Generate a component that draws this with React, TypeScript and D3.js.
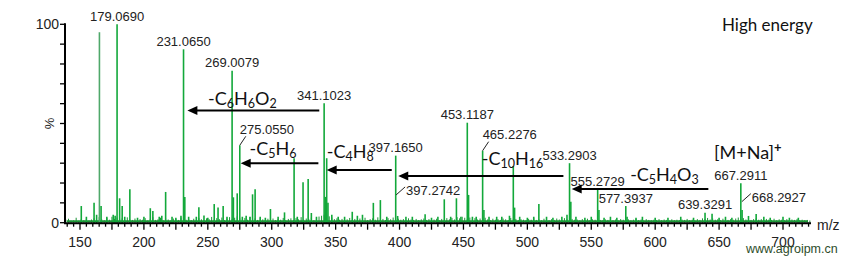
import React from "react";
import * as d3 from "d3";

// ---------- data ----------
const xTicksLabeled = [150, 200, 250, 300, 350, 400, 450, 500, 550, 600, 650, 700];
const yTicksLabeled = [0, 100];

// main peaks: m/z and relative intensity (%)
const peakMz = [
  151, 155, 161, 163, 165.2, 166.5, 171, 176, 177.5, 179, 181, 183, 185, 189, 195, 200, 205, 207, 212, 214,
  217, 222, 225, 229, 231, 232, 235, 241, 243, 247, 250, 255, 258, 262, 265, 269, 270, 273, 275, 277,
  280, 283, 285, 287, 291, 295, 299, 305, 310, 317.5, 320, 324.5, 328.5, 331, 335, 341, 342, 343, 344, 347,
  352, 357, 363, 367, 371, 379.5, 385, 390, 397, 398.5, 405, 410, 420, 425, 430, 435, 440, 444.5, 448, 453,
  454, 457, 460, 465, 466, 470, 476, 480, 486, 489, 490, 494, 500, 505, 509, 515, 520, 527, 531, 533,
  534, 538, 545, 550, 555, 556, 560, 565, 570, 577, 578, 585, 590, 600, 610, 620, 630, 639, 644.5, 650,
  655, 660, 667, 668, 673, 679, 685, 690, 700, 705, 712,
];
const peakPct = [
  8.4, 3, 10, 4, 96, 8.4, 3, 4, 3.5, 100, 12.3, 8.4, 3, 16.8, 2.5, 3, 7.3, 5.9, 3, 3.5,
  15.5, 3, 2.5, 3.5, 87.4, 13, 3, 3, 7.8, 3.6, 2.5, 9.4, 7.6, 8.4, 3, 76.6, 12.8, 14.8, 39, 3,
  3.5, 3, 14.3, 16.8, 3, 2.5, 6.9, 3, 5.2, 32.5, 3, 20.4, 22, 4.9, 3, 60.2, 13, 32.5, 10, 4,
  3, 3, 5.5, 3.5, 4, 10, 11.4, 3, 33.8, 3.4, 3, 3, 4.2, 2.5, 3, 11.8, 3, 12.3, 3, 50.4,
  14, 3, 3, 36.3, 6.4, 3, 3, 3, 3.5, 28.6, 7.6, 3, 2.5, 3, 9.4, 3, 2.5, 3, 4, 30,
  10.6, 3, 2.5, 3, 16.8, 6.4, 2.5, 3, 2.5, 8.4, 3, 2.5, 3, 2.5, 2.5, 3, 2.5, 5, 4.5, 2.5,
  3, 2.5, 19.9, 6.4, 3.4, 4.4, 3, 2.5, 3, 2.5, 2.5,
];
const mutedPeakMz = [165.2];

// baseline chemical noise, one value every 2 m/z starting at 139
const noiseStart = 139;
const noiseStep = 2;
const noisePct = [
  1.5, 2, 1, 1.2, 2.5, 1, 1.8, 1.3, 2, 1.1,
  1.6, 2.2, 1.4, 2.8, 1.7, 1.2, 2.4, 1.5, 3, 1.9,
  2.6, 1.8, 2.2, 1.3, 2.7, 1.6, 1.4, 2.1, 1.2, 1.8,
  1.5, 2.3, 1.1, 1.9, 2.8, 1.4, 1.7, 2.5, 1.3, 2.2,
  1.6, 1.2, 2.1, 1.8, 1.4, 2.6, 2.3, 1.5, 1.9, 1.3,
  2, 1.4, 2.4, 1.7, 1.2, 2.2, 1.8, 2.9, 1.5, 2.3,
  1.8, 2.6, 1.3, 2.1, 2.8, 1.9, 2.5, 3.2, 2.2, 1.6,
  2.4, 1.5, 2.9, 1.8, 2.2, 1.4, 2.6, 1.7, 1.3, 2,
  1.6, 2.1, 1.3, 1.8, 1.5, 2.4, 1.2, 1.9, 2.2, 1.4,
  2.3, 1.7, 2.8, 1.5, 2.1, 1.9, 2.6, 1.3, 2.2, 3.1,
  3.5, 4, 3.8, 3.2, 2.6, 1.8, 2.2, 1.5, 1.9, 1.3,
  1.7, 2.4, 1.4, 1.9, 1.2, 2.1, 1.6, 2.5, 1.3, 1.8,
  2.2, 1.5, 2.7, 1.6, 1.9, 1.3, 2.3, 1.7, 2.6, 1.4,
  2, 1.5, 1.8, 1.2, 2.2, 1.6, 1.4, 1.9, 1.3, 1.7,
  2.1, 1.4, 1.8, 1.2, 1.6, 2, 1.3, 1.9, 1.5, 2.3,
  1.7, 2.4, 1.6, 2.8, 2.2, 3, 2.5, 1.8, 2.6, 1.9,
  2.3, 1.6, 2.1, 1.4, 2.5, 1.7, 1.3, 2, 1.5, 1.8,
  1.4, 2.1, 1.7, 1.3, 2.4, 1.6, 1.9, 1.2, 1.8, 1.5,
  1.3, 1.9, 1.5, 2.2, 1.4, 1.7, 1.2, 2, 1.6, 1.3,
  1.8, 1.4, 2.1, 1.6, 1.3, 2.3, 1.7, 2.6, 1.9, 1.5,
  1.6, 1.2, 1.8, 1.4, 2, 1.3, 1.7, 1.5, 2.2, 1.4,
  1.2, 1.7, 1.4, 1.9, 1.3, 1.6, 1.2, 1.8, 1.5, 1.3,
  1.7, 1.2, 1.5, 1.9, 1.3, 1.6, 1.1, 1.8, 1.4, 1.2,
  1.5, 1.3, 1.8, 1.2, 1.6, 1.4, 1.1, 1.7, 1.3, 1.5,
  1.2, 1.6, 1.4, 1.9, 1.3, 1.5, 1.2, 1.8, 1.4, 2.2,
  1.9, 2.4, 1.6, 2.1, 1.5, 1.8, 1.3, 2, 1.6, 1.4,
  1.8, 1.5, 2.1, 2.6, 1.9, 2.3, 1.6, 2, 1.4, 1.8,
  2.2, 1.5, 1.8, 1.3, 1.9, 1.6, 1.4, 2, 1.2, 1.7,
  1.5, 1.3, 1.8, 1.2, 1.6, 1.4, 1.9, 1.2, 1.5, 1.3,
  1.4, 1.1,
];

// labels centred above their peak
const topLabelMz = [179, 231, 269, 341, 397, 453, 533, 555, 577, 639, 667];
const topLabelText = ["179.0690", "231.0650", "269.0079", "341.1023", "397.1650", "453.1187", "533.2903", "555.2729", "577.3937", "639.3291", "667.2911"];

// labels with a leader line
const leaderUpMz = [275, 465];
const leaderUpText = ["275.0550", "465.2276"];
const leaderSideMz = [397.3, 667.8];
const leaderSidePct = [14, 10.6];
const leaderSideText = ["397.2742", "668.2927"];

// neutral-loss arrows: from m/z -> to m/z at height %
const arrowFrom = [337.2, 336.5, 393.9, 528.2, 641.6];
const arrowTo = [234, 275.7, 343, 399, 534.7];
const arrowPct = [56.5, 30, 26.6, 23.5, 17];
// formula labels: parts [text, isSub]
const lossLabels: [string, boolean][][] = [
  [["-C", false], ["6", true], ["H", false], ["6", true], ["O", false], ["2", true]],
  [["-C", false], ["5", true], ["H", false], ["6", true]],
  [["-C", false], ["4", true], ["H", false], ["8", true]],
  [["-C", false], ["10", true], ["H", false], ["16", true]],
  [["-C", false], ["5", true], ["H", false], ["4", true], ["O", false], ["3", true]],
];
const lossLabelMz = [250.2, 282.6, 343.1, 464.3, 580.4];
const lossLabelPct = [59.3, 34.1, 32.6, 29.1, 20.9];

// ---------- layout ----------
const W = 848;
const H = 264;
const X0 = 65;
const X1 = 811;
const Y0 = 222.7;

const x = d3.scaleLinear().domain([150, 700]).range([80, 783]);
const y = d3.scaleLinear().domain([0, 100]).range([Y0, 24.3]);

const numFont = "'Liberation Sans', Arial, sans-serif";
const txtFont = "Lato, 'Open Sans', sans-serif";
const GREEN = "#12a83a";
const NOISE = "#1c9436";

export default function App() {
  const noise = noisePct.map((p, i) => ({ mz: noiseStart + i * noiseStep, p }));
  const peaks = peakMz.map((mz, i) => ({ mz, p: peakPct[i] }));
  const minorTicks = d3.range(140, 721, 5);
  const yTicks = d3.range(0, 101, 10);

  return (
    <svg width={W} height={H} style={{ position: "absolute", left: 0, top: 0, background: "#fff" }}>
      {/* noise */}
      <g stroke={NOISE} strokeWidth={1}>
        {noise.map((d, i) => (
          <line key={i} x1={x(d.mz)} x2={x(d.mz)} y1={Y0} y2={y(d.p)} />
        ))}
        <line x1={X0 + 2} x2={X1 - 3} y1={Y0 - 1.5} y2={Y0 - 1.5} strokeWidth={2} />
      </g>
      {/* peaks */}
      <g strokeWidth={1.6}>
        {peaks.map((d, i) => (
          <line
            key={i}
            x1={x(d.mz)}
            x2={x(d.mz)}
            y1={Y0}
            y2={y(d.p)}
            stroke={mutedPeakMz.includes(d.mz) ? "#4fa86a" : GREEN}
          />
        ))}
      </g>

      {/* axes */}
      <g stroke="#000">
        <line x1={X0} x2={X0} y1={y(100) - 1} y2={Y0 + 1} strokeWidth={2} />
        <line x1={X0 - 1} x2={X1} y1={Y0 + 0.5} y2={Y0 + 0.5} strokeWidth={2} />
        {yTicks.map((t) => (
          <line key={t} x1={X0 - 5} x2={X0} y1={y(t)} y2={y(t)} strokeWidth={1.3} />
        ))}
        {minorTicks.map((t) => (
          <line key={t} x1={x(t)} x2={x(t)} y1={Y0 + 1} y2={Y0 + (t % 25 === 0 ? 7 : 4)} strokeWidth={1.3} />
        ))}
      </g>
      <g fontFamily={numFont} fontSize={14} fill="#222">
        {yTicksLabeled.map((t) => (
          <text key={t} x={X0 - 6} y={y(t) + 5} textAnchor="end">
            {t}
          </text>
        ))}
        {xTicksLabeled.map((t) => (
          <text key={t} x={x(t)} y={246.5} textAnchor="middle">
            {t}
          </text>
        ))}
        <text x={817} y={230}>m/z</text>
        <text transform={`translate(54,${y(50)}) rotate(-90)`} textAnchor="middle" fontSize={13}>
          %
        </text>
      </g>

      {/* peak labels */}
      <g fontFamily={numFont} fontSize={13} fill="#222">
        {topLabelMz.map((mz, i) => {
          const p = peakPct[peakMz.indexOf(mz)];
          return (
            <text key={i} x={x(mz)} y={y(p) - 3.5} textAnchor="middle">
              {topLabelText[i]}
            </text>
          );
        })}
        {leaderUpMz.map((mz, i) => {
          const p = peakPct[peakMz.indexOf(mz)];
          const px = x(mz);
          const py = y(p);
          return (
            <g key={i}>
              <line x1={px} y1={py} x2={px + 6} y2={py - 9} stroke="#222" strokeWidth={1} />
              <text x={px} y={py - 11.5}>
                {leaderUpText[i]}
              </text>
            </g>
          );
        })}
        {leaderSideMz.map((mz, i) => {
          const px = x(mz);
          const py = y(leaderSidePct[i]);
          return (
            <g key={i}>
              <line x1={px} y1={py} x2={px + 9} y2={py - 8} stroke="#222" strokeWidth={1} />
              <text x={px + 10} y={py}>
                {leaderSideText[i]}
              </text>
            </g>
          );
        })}
      </g>

      {/* arrows */}
      <g>
        {arrowFrom.map((f, i) => {
          const xr = x(f);
          const xt = x(arrowTo[i]);
          const ay = y(arrowPct[i]);
          return (
            <g key={i}>
              <line x1={xr} x2={xt + 7} y1={ay} y2={ay} stroke="#000" strokeWidth={2} />
              <polygon points={`${xt},${ay} ${xt + 10},${ay - 4.5} ${xt + 10},${ay + 4.5}`} fill="#000" />
            </g>
          );
        })}
      </g>

      {/* loss labels */}
      <g fontFamily={txtFont} fontSize={18} fill="#111">
        {lossLabels.map((parts, i) => (
          <text key={i} x={x(lossLabelMz[i])} y={y(lossLabelPct[i])}>
            {parts.map(([t, sub], j) => (
              <tspan key={j} fontSize={sub ? 12.5 : 18} dy={sub ? 3 : j === 0 ? 0 : -3}>
                {t}
              </tspan>
            ))}
          </text>
        ))}
        <text x={714} y={159}>
          [M+Na]
          <tspan fontSize={13} fontWeight="bold" dy={-7}>
            +
          </tspan>
        </text>
        <text x={722} y={30.5} fontSize={17}>
          High energy
        </text>
      </g>

      {/* watermark */}
      <text x={746} y={253} fontFamily={numFont} fontSize={12.5} fill="#2e4d2a">
        www.agroipm.cn
      </text>
    </svg>
  );
}
